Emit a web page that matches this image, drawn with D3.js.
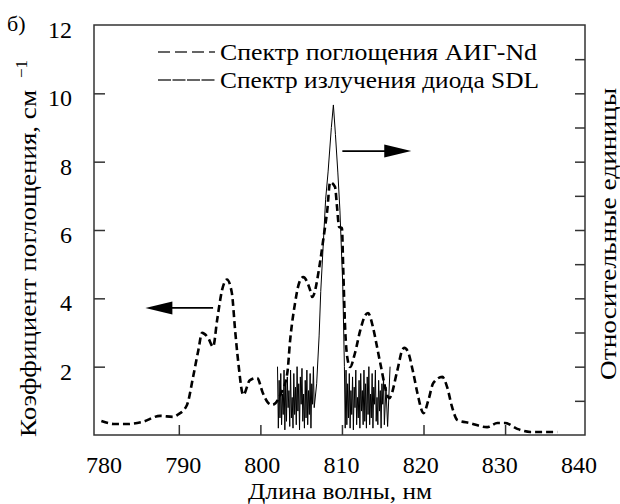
<!DOCTYPE html>
<html>
<head>
<meta charset="utf-8">
<script src="https://cdn.jsdelivr.net/npm/d3@7"></script>
</head>
<body style="margin:0">
<script>
// absorption spectrum of Nd:YAG, cm^-1 (left axis)
var absWl  = [780.5, 782.2, 783.6, 785.5, 787.7, 789.3, 789.9, 791.0, 791.75, 792.4, 792.85, 793.6, 794.2, 794.7, 795.3, 795.9, 796.5, 796.9, 797.3, 797.9, 798.7, 799.6, 800.3, 800.95, 801.45, 802.5, 803.3, 803.65, 804.25, 804.75, 805.25, 806.1, 806.35, 807.3, 807.7, 808.2, 808.55, 809.15, 809.4, 809.65, 810.0, 810.15, 810.4, 810.65, 811.0, 811.6, 812.25, 812.85, 813.2, 813.8, 814.3, 814.7, 815.8, 816.8, 817.4, 817.65, 818.1, 818.75, 819.25, 820.0, 820.6, 821.2, 822.3, 822.9, 823.5, 824.15, 825.7, 827.8, 829.05, 830.0, 831.5, 833.1, 836.4];
var absVal = [0.41, 0.32, 0.32, 0.38, 0.56, 0.53, 0.6, 0.88, 1.7, 2.49, 2.99, 2.84, 2.58, 3.37, 4.24, 4.55, 4.16, 3.07, 2.1, 1.17, 1.6, 1.67, 1.23, 0.94, 0.88, 1.2, 1.81, 2.78, 3.86, 4.45, 4.62, 4.24, 4.04, 5.03, 5.7, 6.58, 7.4, 7.26, 6.67, 6.09, 6.06, 4.92, 3.07, 2.28, 1.99, 2.4, 3.07, 3.5, 3.57, 3.16, 2.58, 2.1, 1.08, 1.9, 2.49, 2.55, 2.43, 1.81, 1.23, 0.64, 1.02, 1.52, 1.7, 1.4, 0.82, 0.44, 0.35, 0.23, 0.35, 0.35, 0.18, 0.09, 0.09];

// emission spectrum of SDL diode, relative units (right axis)
var emWl  = [802.1, 802.2, 802.3, 802.4, 802.5, 802.6, 802.7, 802.8, 802.9, 803.0, 803.1, 803.2, 803.3, 803.4, 803.5, 803.6, 803.7, 803.8, 803.9, 804.0, 804.1, 804.2, 804.3, 804.4, 804.5, 804.6, 804.7, 804.8, 804.9, 805.0, 805.1, 805.2, 805.3, 805.4, 805.5, 805.6, 805.7, 805.8, 805.9, 806.0, 806.1, 806.2, 806.3, 806.4, 806.5, 806.6,
             806.9, 807.2, 807.4, 808.0, 808.3, 808.7, 808.95, 809.2, 809.5, 809.75, 810.1, 810.3,
             810.4, 810.5, 810.6, 810.7, 810.8, 810.9, 811.0, 811.1, 811.2, 811.3, 811.4, 811.5, 811.6, 811.7, 811.8, 811.9, 812.0, 812.1, 812.2, 812.3, 812.4, 812.5, 812.6, 812.7, 812.8, 812.9, 813.0, 813.1, 813.2, 813.3, 813.4, 813.5, 813.6, 813.7, 813.8, 813.9, 814.0, 814.1, 814.2, 814.3, 814.4, 814.5, 814.6, 814.7, 814.8, 814.9, 815.0, 815.1, 815.2, 815.4, 815.6, 815.9];
var emVal = [2.0, 0.2, 1.6, 0.5, 1.8, 0.3, 1.2, 0.6, 1.9, 0.15, 1.5, 0.4, 1.7, 0.8, 1.3, 0.25, 1.9, 0.5, 1.1, 0.2, 1.8, 0.6, 1.4, 0.3, 2.0, 0.7, 1.5, 0.15, 1.7, 0.9, 1.95, 0.4, 1.2, 0.2, 1.6, 0.5, 1.9, 0.3, 1.3, 0.6, 1.8, 0.2, 1.5, 0.9, 2.0, 0.8,
             1.5, 2.9, 4.2, 6.9, 7.7, 9.0, 9.66, 8.8, 7.67, 6.58, 4.4, 2.0,
             0.2, 1.9, 0.3, 1.5, 0.5, 1.8, 0.2, 1.3, 0.6, 1.7, 0.15, 1.4, 0.8, 1.9, 0.3, 1.1, 0.5, 1.6, 0.2, 1.8, 0.7, 1.3, 0.3, 1.9, 0.4, 1.5, 0.2, 1.7, 0.6, 2.0, 0.3, 1.2, 0.5, 1.8, 0.2, 1.4, 0.9, 1.9, 0.4, 1.1, 0.3, 1.6, 0.7, 1.3, 0.2, 1.5, 0.9, 1.7, 0.3, 1.4, 0.25, 2.0];

var xTicks = [790, 800, 810, 820, 830];
var xLabels = [780, 790, 800, 810, 820, 830, 840];
var yTicks = [2, 4, 6, 8, 10];
var yLabels = [2, 4, 6, 8, 10, 12];
var rTicks = [1, 2, 3, 4, 5, 6, 7, 8, 9, 10, 11];

var legendItems = ["Спектр поглощения АИГ-Nd", "Спектр излучения диода SDL"];

var W = 620, H = 504;
var box = {left: 94, right: 585, top: 25, bottom: 435};

var x = d3.scaleLinear().domain([779.6, 839.8]).range([box.left, box.right]);
var xLab = d3.scaleLinear().domain([780, 840]).range([104, 579]);
var y = d3.scaleLinear().domain([0, 12]).range([box.bottom, box.top]);
var yR = d3.scaleLinear().domain([0, 12]).range([box.bottom, box.top]);

var svg = d3.select("body").append("svg")
    .attr("width", W)
    .attr("height", H);

function txt(sel, size) {
    return sel.attr("font-family", "Liberation Serif")
        .style("font-family", "'Liberation Serif'")
        .style("font-size", size + "px");
}

// frame
svg.append("rect")
    .attr("x", box.left).attr("y", box.top)
    .attr("width", box.right - box.left).attr("height", box.bottom - box.top)
    .attr("fill", "none").attr("stroke", "#333").attr("stroke-width", 1.5);

// inward ticks
var gx = svg.append("g")
    .attr("transform", "translate(0," + box.bottom + ")")
    .call(d3.axisBottom(x).tickValues(xTicks).tickSize(-10).tickSizeOuter(0).tickFormat(""));
var gy = svg.append("g")
    .attr("transform", "translate(" + box.left + ",0)")
    .call(d3.axisLeft(y).tickValues(yTicks).tickSize(-11).tickSizeOuter(0).tickFormat(""));
var gr = svg.append("g")
    .attr("transform", "translate(" + box.right + ",0)")
    .call(d3.axisRight(yR).tickValues(rTicks).tickSize(-10).tickSizeOuter(0).tickFormat(""));
[gx, gy, gr].forEach(function(g){
    g.select(".domain").remove();
    g.selectAll(".tick line").attr("stroke", "#333").attr("stroke-width", 1.5);
});

// tick labels
txt(svg.selectAll(".xl").data(xLabels).enter().append("text")
    .attr("class", "xl")
    .attr("x", function(d){ return xLab(d); })
    .attr("y", 473)
    .attr("text-anchor", "middle")
    .text(function(d){ return d; }), 24);

txt(svg.selectAll(".yl").data(yLabels).enter().append("text")
    .attr("class", "yl")
    .attr("x", 72)
    .attr("y", function(d){ return y(d) + 13; })
    .attr("text-anchor", "end")
    .text(function(d){ return d; }), 24);

txt(svg.append("text").attr("x", 7).attr("y", 31).text("б)"), 22);

// axis titles
txt(svg.append("text")
    .attr("x", 248).attr("y", 499)
    .attr("textLength", 184).attr("lengthAdjust", "spacingAndGlyphs")
    .text("Длина волны, нм"), 23);

txt(svg.append("text")
    .attr("transform", "translate(36,437) rotate(-90)")
    .attr("textLength", 347).attr("lengthAdjust", "spacingAndGlyphs")
    .text("Коэффициент поглощения, см"), 23);
txt(svg.append("text")
    .attr("transform", "translate(27,78) rotate(-90)")
    .text("−1"), 17);

txt(svg.append("text")
    .attr("transform", "translate(616,380) rotate(-90)")
    .attr("textLength", 292).attr("lengthAdjust", "spacingAndGlyphs")
    .text("Относительные единицы"), 23);

// curves
var absLine = d3.line()
    .x(function(d){ return x(d[0]); })
    .y(function(d){ return y(d[1]); })
    .curve(d3.curveMonotoneX);
var emLine = d3.line()
    .x(function(d){ return x(d[0]); })
    .y(function(d){ return yR(d[1]); });

svg.append("path")
    .datum(emWl.map(function(w, i){ return [w, emVal[i]]; }))
    .attr("d", emLine)
    .attr("fill", "none").attr("stroke", "#000").attr("stroke-width", 1);

svg.append("path")
    .datum(absWl.map(function(w, i){ return [w, absVal[i]]; }))
    .attr("d", absLine)
    .attr("fill", "none").attr("stroke", "#000")
    .attr("stroke-width", 2.6).attr("stroke-dasharray", "7,4");

// arrows
function arrow(x0, x1, yv, sc) {
    var px0 = x(x0), px1 = x(x1), py = sc(yv);
    var dir = px1 > px0 ? 1 : -1, hl = 27, hw = 6.5;
    svg.append("line")
        .attr("x1", px0).attr("x2", px1 - dir * hl + dir * 2)
        .attr("y1", py).attr("y2", py)
        .attr("stroke", "#000").attr("stroke-width", 1.8);
    svg.append("path")
        .attr("d", "M" + px1 + "," + py + "L" + (px1 - dir * hl) + "," + (py - hw) +
              "L" + (px1 - dir * hl) + "," + (py + hw) + "Z")
        .attr("fill", "#000");
}
arrow(794.2, 785.9, 3.72, y);
arrow(810.05, 818.5, 8.31, yR);

// legend
var lg = svg.selectAll(".lg").data(legendItems).enter().append("g")
    .attr("class", "lg")
    .attr("transform", function(d, i){ return "translate(158," + (52 + i * 28) + ")"; });
lg.append("line")
    .attr("x1", 0).attr("x2", 57).attr("y1", 0).attr("y2", 0)
    .attr("stroke", "#333").attr("stroke-width", 1.6)
    .attr("stroke-dasharray", function(d, i){ return i === 0 ? "12,5" : "13,1.5"; });
txt(lg.append("text")
    .attr("x", 62).attr("y", 8)
    .attr("textLength", function(d, i){ return i === 0 ? 317 : 319; })
    .attr("lengthAdjust", "spacingAndGlyphs")
    .text(function(d){ return d; }), 23);
</script>
</body>
</html>
